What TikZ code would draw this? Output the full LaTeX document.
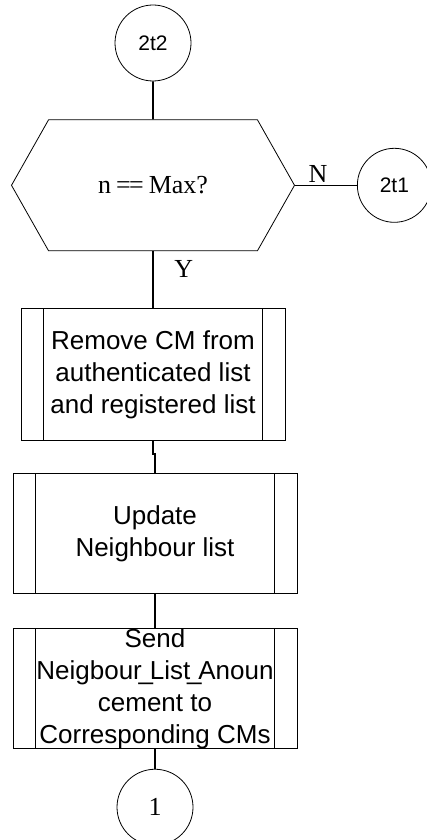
\documentclass[tikz,border=0pt]{standalone}
\usepackage{fontspec}
\setmainfont{Liberation Serif}
\setsansfont{Liberation Sans}
\usetikzlibrary{positioning,shapes.symbols}
\newcommand{\usc}{\makebox[4pt][c]{\_}}

\begin{document}
\begin{tikzpicture}[
    conn/.style={draw, circle, thin, minimum size=38pt, inner sep=0pt},
    decide/.style={draw, thin, shape=signal, signal to=west and east, signal pointer angle=121,
      minimum width=141.5pt, minimum height=65.5pt, inner sep=0pt, font=\fontsize{13}{15}\selectfont},
    procbox/.style={draw, thin, minimum width=142pt, minimum height=60pt, inner sep=0pt, align=center,
      font=\sffamily\fontsize{13}{16}\selectfont,
      path picture={
        \draw ([xshift=11.25pt]path picture bounding box.north west) -- ([xshift=11.25pt]path picture bounding box.south west);
        \draw ([xshift=-11.25pt]path picture bounding box.north east) -- ([xshift=-11.25pt]path picture bounding box.south east);
      }},
    line/.style={draw, line width=0.8pt}
  ]
    \useasboundingbox (0,0) rectangle (213.5pt,-420pt);
    \node[conn, font=\sffamily\fontsize{10.5}{12}\selectfont] (c2t2) at (76.5pt,-21.5pt) {2t2};
    \node[decide, below=19pt of c2t2.south, anchor=north] (dec) {n\kern2.5pt=\kern-0.8pt=\kern2.5pt Max?};
    \node[conn, right=31pt of dec.east, anchor=west, minimum size=37pt, font=\sffamily\fontsize{10.5}{12}\selectfont] (c2t1) {2t1};
    \node[procbox, minimum width=132pt, minimum height=66pt, below=28.5pt of dec.south, anchor=north] (rm) {Remove CM from\\authenticated list\\and registered list};
    \node[procbox, below=16pt of rm.south, anchor=north, xshift=1pt] (upd) {Update\\Neighbour list};
    \node[procbox, below=17pt of upd.south, anchor=north] (snd) {Send\\Neigbour\usc List\usc Anoun\\cement to\\Corresponding CMs};
    \node[conn, below=10pt of snd.south, anchor=north, font=\fontsize{13}{15}\selectfont] (c1) {1};
    \draw[line] (c2t2) -- (dec);
    \draw[line] (dec.east) -- node[above, pos=0.37, inner sep=1pt, font=\fontsize{13}{15}\selectfont] {N} (c2t1);
    \draw[line] (dec.south) -- node[right, pos=0.32, xshift=7pt, font=\fontsize{13}{15}\selectfont] {Y} (rm);
    \draw[line] (rm.south) -- ++(0,-6.5pt) -| (upd.north);
    \draw[line] (upd) -- (snd);
    \draw[line] (snd) -- (c1);
  \end{tikzpicture}
\end{document}
